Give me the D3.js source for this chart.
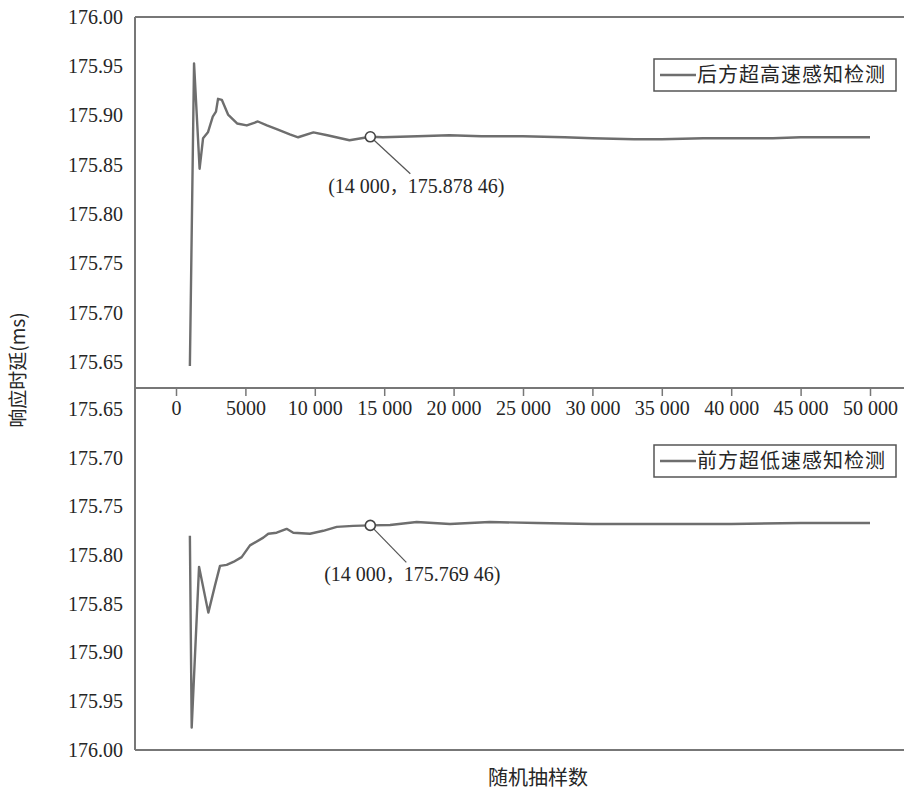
<!DOCTYPE html>
<html>
<head>
<meta charset="utf-8">
<script src="https://cdn.jsdelivr.net/npm/d3@7/dist/d3.min.js"></script>
<style>
  html, body { margin: 0; padding: 0; background: #fff; }
  svg { display: block; }
  .cjk { font-family: "Noto Sans CJK SC", sans-serif; fill: #262626; }
  .serif { font-family: "Liberation Serif", "Times New Roman", serif; fill: #262626; }
</style>
</head>
<body>
<svg id="chart" width="904" height="793"></svg>
<script>
// Sample counts (x) and mean response latency (ms) for the rear ultra-high-speed detection
const rearSamples = [1000, 1300, 1700, 1950, 2300, 2650, 2880, 3030, 3300, 3750, 4400, 5100, 5900,
  6550, 7300, 8200, 8800, 9900, 10900, 12500, 14000, 14900, 17400, 19700, 22000, 25000, 28000,
  30000, 33000, 35000, 38000, 40000, 43000, 45000, 48000, 50000];
const rearLatency = [175.646, 175.953, 175.846, 175.877, 175.883, 175.899, 175.904, 175.917, 175.916,
  175.901, 175.892, 175.890, 175.894, 175.890, 175.886, 175.881, 175.878, 175.883, 175.880, 175.875,
  175.87846, 175.878, 175.879, 175.880, 175.879, 175.879, 175.878, 175.877, 175.876, 175.876,
  175.877, 175.877, 175.877, 175.878, 175.878, 175.878];

// Sample counts (x) and mean response latency (ms) for the front ultra-low-speed detection
const frontSamples = [1000, 1130, 1660, 2330, 2810, 3170, 3650, 4130, 4730, 5330, 6290, 6650, 7250,
  7970, 8450, 9650, 10610, 11580, 12770, 14000, 15420, 17340, 19740, 22600, 26000, 30000, 35000,
  40000, 45000, 50000];
const frontLatency = [175.780, 175.977, 175.812, 175.859, 175.831, 175.811, 175.810, 175.807, 175.802,
  175.790, 175.782, 175.778, 175.777, 175.773, 175.777, 175.778, 175.775, 175.771, 175.770, 175.76946,
  175.769, 175.766, 175.768, 175.766, 175.767, 175.768, 175.768, 175.768, 175.767, 175.767];

// Axis ticks
const xTicks = [0, 5000, 10000, 15000, 20000, 25000, 30000, 35000, 40000, 45000, 50000];
const yTicks = [175.65, 175.70, 175.75, 175.80, 175.85, 175.90, 175.95, 176.00];

// Highlighted points
const markX = 14000;
const rearMarkY = 175.87846;
const frontMarkY = 175.76946;

const seriesNames = ["后方超高速感知检测", "前方超低速感知检测"];
const xTitle = "随机抽样数";
const yTitle = "响应时延(ms)";

const svg = d3.select("#chart");
const lineColor = "#6e6e6e";
const axisColor = "#777";
const serifFont = '"Liberation Serif", "Times New Roman", serif';

const frameLeft = 135, frameRight = 904, frameTop = 17, frameMid = 388, frameBottom = 750;

const x = d3.scaleLinear().domain([0, 50000]).range([176, 870]);
const yTop = d3.scaleLinear().domain([175.65, 176]).range([362, frameTop]);
const yBot = d3.scaleLinear().domain([175.65, 176]).range([409, frameBottom]);

// Number grouping with spaces for five or more digits
function groupDigits(str) {
  const [intPart, frac] = str.split(".");
  let ip = intPart;
  if (ip.length >= 5) ip = ip.replace(/\B(?=(\d{3})+(?!\d))/g, " ");
  if (frac === undefined) return ip;
  const fp = frac.length >= 5 ? frac.replace(/(\d{3})(?=\d)/g, "$1 ") : frac;
  return ip + "." + fp;
}

// Frame lines
const frame = svg.append("g").attr("stroke", axisColor).attr("stroke-width", 2);
frame.append("line").attr("x1", frameLeft).attr("x2", frameRight).attr("y1", frameTop).attr("y2", frameTop);
frame.append("line").attr("x1", frameLeft).attr("x2", frameRight).attr("y1", frameBottom).attr("y2", frameBottom);
frame.append("line").attr("x1", frameLeft).attr("x2", frameLeft).attr("y1", frameTop).attr("y2", frameBottom);

// Y axes (labels only)
const yAxisTop = svg.append("g").attr("transform", `translate(${frameLeft - 12},0)`)
  .call(d3.axisLeft(yTop).tickValues(yTicks).tickSize(0).tickFormat(d3.format(".2f")));
const yAxisBot = svg.append("g").attr("transform", `translate(${frameLeft - 12},0)`)
  .call(d3.axisLeft(yBot).tickValues(yTicks).tickSize(0).tickFormat(d3.format(".2f")));
[yAxisTop, yAxisBot].forEach(g => {
  g.select(".domain").remove();
  g.attr("font-family", serifFont).attr("font-size", 20);
  g.selectAll(".tick text").attr("x", 0).attr("fill", "#262626");
});

// Shared x axis between the panels
const xAxis = svg.append("g").attr("transform", `translate(0,${frameMid})`)
  .call(d3.axisBottom(x).tickValues(xTicks).tickSize(8).tickPadding(6)
    .tickFormat(d => groupDigits(String(d))));
xAxis.select(".domain").remove();
xAxis.attr("font-family", serifFont).attr("font-size", 20);
xAxis.selectAll(".tick line").attr("stroke", axisColor).attr("stroke-width", 1.5);
xAxis.selectAll(".tick text").attr("dy", "0.71em").attr("y", 13).attr("fill", "#262626");
svg.append("line").attr("x1", frameLeft).attr("x2", frameRight).attr("y1", frameMid).attr("y2", frameMid)
  .attr("stroke", axisColor).attr("stroke-width", 2);

// Series lines
const rearLine = d3.line().x((d, i) => x(rearSamples[i])).y(d => yTop(d));
const frontLine = d3.line().x((d, i) => x(frontSamples[i])).y(d => yBot(d));

svg.append("path").datum(rearLatency).attr("d", rearLine)
  .attr("fill", "none").attr("stroke", lineColor).attr("stroke-width", 2.4)
  .attr("stroke-linejoin", "round");
svg.append("path").datum(frontLatency).attr("d", frontLine)
  .attr("fill", "none").attr("stroke", lineColor).attr("stroke-width", 2.4)
  .attr("stroke-linejoin", "round");

// Annotated points: leader line, hollow marker and centred coordinate label
function annotate(yScale, yv, dx, dy) {
  const px = x(markX), py = yScale(yv);
  svg.append("line").attr("x1", px).attr("y1", py).attr("x2", px + dx).attr("y2", py + dy)
    .attr("stroke", "#555").attr("stroke-width", 1.2);
  svg.append("circle").attr("cx", px).attr("cy", py).attr("r", 5)
    .attr("fill", "#fff").attr("stroke", "#444").attr("stroke-width", 1.6);
  const t = svg.append("text").attr("class", "serif").attr("font-size", 20)
    .attr("x", px + dx + 6).attr("y", py + dy + 19).attr("text-anchor", "middle");
  t.append("tspan").text(`(${groupDigits(String(markX))}`);
  t.append("tspan").attr("class", "cjk").attr("font-size", 18).text("，");
  t.append("tspan").text(`${groupDigits(yv.toFixed(5))})`);
}
annotate(yTop, rearMarkY, 40, 37);
annotate(yBot, frontMarkY, 36, 37);

// Legends
function legend(yPos, name) {
  const g = svg.append("g");
  g.append("rect").attr("x", 654).attr("y", yPos).attr("width", 242).attr("height", 32)
    .attr("fill", "#fff").attr("stroke", "#555").attr("stroke-width", 1.5);
  g.append("line").attr("x1", 660).attr("x2", 696).attr("y1", yPos + 16).attr("y2", yPos + 16)
    .attr("stroke", lineColor).attr("stroke-width", 2.6);
  g.append("text").attr("class", "cjk").attr("font-size", 20).attr("letter-spacing", 1)
    .attr("x", 697).attr("y", yPos + 16).attr("dy", "0.36em").text(name);
}
legend(59, seriesNames[0]);
legend(445, seriesNames[1]);

// Axis titles
svg.append("text").attr("class", "cjk").attr("font-size", 20).attr("text-anchor", "middle")
  .attr("x", 538).attr("y", 778).attr("dy", "0.35em").text(xTitle);
svg.append("text").attr("class", "cjk").attr("font-size", 19).attr("text-anchor", "middle")
  .attr("transform", "translate(18,370) rotate(-90)").attr("dy", "0.35em").text(yTitle);
</script>
</body>
</html>
